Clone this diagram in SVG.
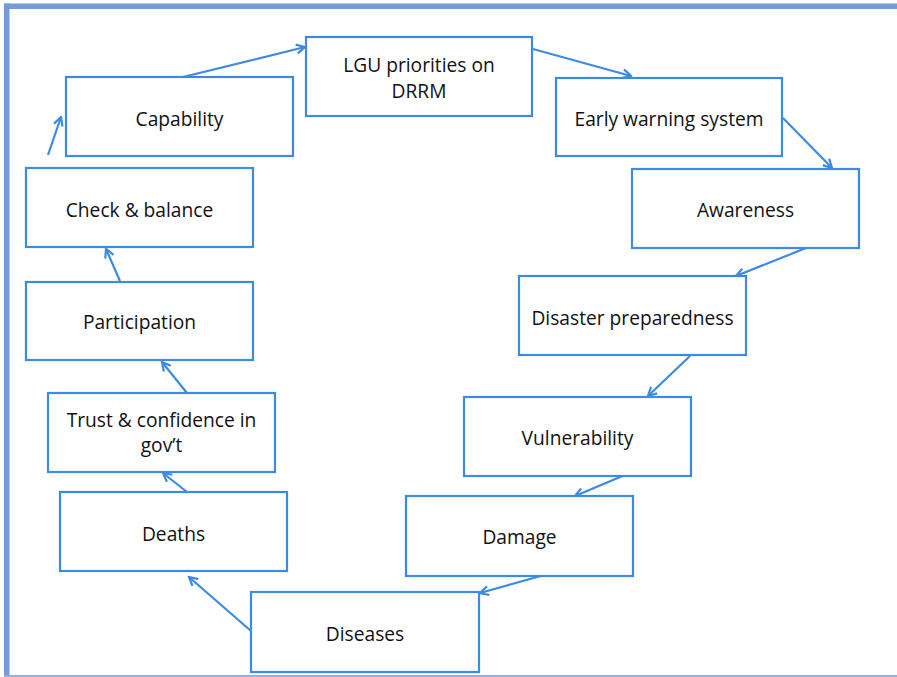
<svg xmlns="http://www.w3.org/2000/svg" width="897" height="677" viewBox="0 0 897 677">
  <defs>
    <style>
      .box rect { fill: #ffffff; stroke: #3c8ae3; stroke-width: 2.2; }
      .box text { font-family: "Open Sans", "Liberation Sans", sans-serif; font-size: 19.2px; fill: #111111; text-anchor: middle; }
      .conn line { stroke: #3c8ae3; stroke-width: 2.2; fill: none; marker-end: url(#arrow); }
      .frame { fill: #739cd8; }
    </style>
    <marker id="arrow" viewBox="0 0 12 12" refX="10.5" refY="6" markerWidth="12" markerHeight="12" markerUnits="userSpaceOnUse" orient="auto">
      <polyline points="2,1.5 10.5,6 2,10.5" fill="none" stroke="#3c8ae3" stroke-width="2.2" stroke-linejoin="miter"/>
    </marker>
  </defs>

  <rect width="897" height="677" fill="#ffffff"/>

  <!-- page frame -->
  <rect class="frame" x="4" y="3.5" width="893" height="5.5"/>
  <rect class="frame" x="4" y="3.5" width="5.5" height="673.5"/>
  <rect x="4" y="675" width="893" height="2" fill="#8fb2e3"/>

  <!-- connectors -->
  <g id="connectors" class="conn">
    <line x1="183" y1="77" x2="305" y2="47"/>
    <line x1="533" y1="49" x2="631" y2="76"/>
    <line x1="783" y1="118" x2="832" y2="168"/>
    <line x1="806" y1="248" x2="736" y2="276"/>
    <line x1="690" y1="356" x2="648" y2="396"/>
    <line x1="632" y1="472" x2="575" y2="496"/>
    <line x1="555" y1="572" x2="480" y2="593"/>
    <line x1="251" y1="631" x2="189" y2="577"/>
    <line x1="187" y1="492" x2="163" y2="473"/>
    <line x1="187" y1="393" x2="162" y2="362"/>
    <line x1="120" y1="281" x2="106" y2="249"/>
    <line x1="48" y1="155" x2="61" y2="117"/>
  </g>

  <!-- nodes -->
  <g id="lgu-priorities" class="box">
    <rect x="306" y="37" width="226" height="79"/>
    <text x="419" y="72">LGU priorities on</text>
    <text x="419" y="98">DRRM</text>
  </g>
  <g id="early-warning" class="box">
    <rect x="556" y="78" width="226" height="78"/>
    <text x="669" y="126">Early warning system</text>
  </g>
  <g id="awareness" class="box">
    <rect x="632" y="169" width="227" height="79"/>
    <text x="745.5" y="217">Awareness</text>
  </g>
  <g id="disaster-preparedness" class="box">
    <rect x="519" y="276" width="227" height="79"/>
    <text x="632.5" y="325">Disaster preparedness</text>
  </g>
  <g id="vulnerability" class="box">
    <rect x="464" y="397" width="227" height="79"/>
    <text x="577.5" y="445">Vulnerability</text>
  </g>
  <g id="damage" class="box">
    <rect x="406" y="496" width="227" height="80"/>
    <text x="519.5" y="544">Damage</text>
  </g>
  <g id="diseases" class="box">
    <rect x="251" y="592" width="228" height="80"/>
    <text x="365" y="641">Diseases</text>
  </g>
  <g id="deaths" class="box">
    <rect x="60" y="492" width="227" height="79"/>
    <text x="173.5" y="541">Deaths</text>
  </g>
  <g id="trust" class="box">
    <rect x="48" y="393" width="227" height="79"/>
    <text x="161.5" y="427">Trust &amp; confidence in</text>
    <text x="161.5" y="452">gov’t</text>
  </g>
  <g id="participation" class="box">
    <rect x="26" y="282" width="227" height="78"/>
    <text x="139.5" y="329">Participation</text>
  </g>
  <g id="check-balance" class="box">
    <rect x="26" y="168" width="227" height="79"/>
    <text x="139.5" y="217">Check &amp; balance</text>
  </g>
  <g id="capability" class="box">
    <rect x="66" y="77" width="227" height="79"/>
    <text x="179.5" y="126">Capability</text>
  </g>
</svg>
